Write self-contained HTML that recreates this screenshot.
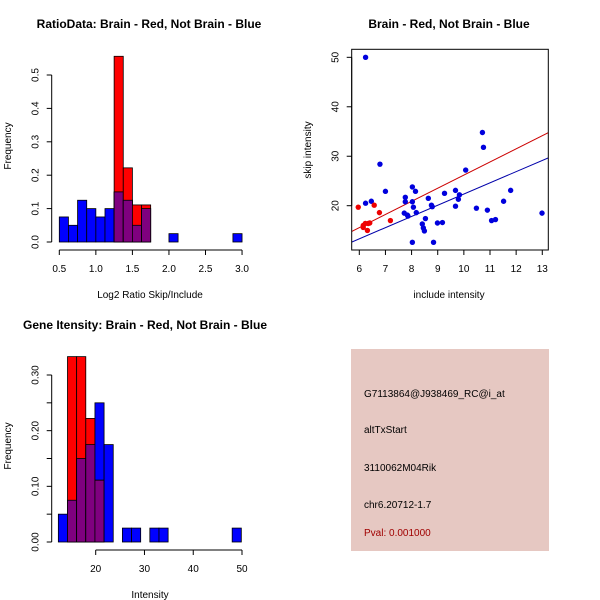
<!DOCTYPE html>
<html><head><meta charset="utf-8"><style>
body{margin:0;background:#fff}
svg{display:block;font-family:"Liberation Sans",Arial,sans-serif}
</style></head><body>
<svg id="s" width="600" height="600" viewBox="0 0 600 600">
<rect width="600" height="600" fill="#fff"/>
<text x="149" y="28" text-anchor="middle" font-size="12" font-weight="bold">RatioData: Brain - Red, Not Brain - Blue</text>
<text x="449" y="28" text-anchor="middle" font-size="12" font-weight="bold">Brain - Red, Not Brain - Blue</text>
<text x="145" y="329" text-anchor="middle" font-size="12" font-weight="bold">Gene Itensity: Brain - Red, Not Brain - Blue</text>
<text x="150" y="298" text-anchor="middle" font-size="10">Log2 Ratio Skip/Include</text>
<text transform="translate(11,146) rotate(-90)" text-anchor="middle" font-size="10">Frequency</text>
<text x="449" y="298" text-anchor="middle" font-size="10">include intensity</text>
<text transform="translate(311,150) rotate(-90)" text-anchor="middle" font-size="10">skip intensity</text>
<text x="150" y="598" text-anchor="middle" font-size="10">Intensity</text>
<text transform="translate(11,446) rotate(-90)" text-anchor="middle" font-size="10">Frequency</text>
<g>
<rect x="351" y="349" width="198" height="202" fill="#E6C8C2"/>
<text x="364" y="397" font-size="10">G7113864@J938469_RC@i_at</text>
<text x="364" y="433" font-size="10">altTxStart</text>
<text x="364" y="471" font-size="10">3110062M04Rik</text>
<text x="364" y="508" font-size="10">chr6.20712-1.7</text>
<text x="364" y="536" font-size="10" fill="#a00000">Pval: 0.001000</text>
</g>
<g id="g1"></g><g id="g2"></g><g id="g3"></g>
</svg>
<script>
// Panel 1 data
const ratioBinStart = 0.5, ratioBinWidth = 0.125;
const ratioBlue = [0.075,0.05,0.125,0.1,0.075,0.1,0.15,0.125,0.05,0.1,0,0,0.025,0,0,0,0,0,0,0.025];
const ratioRed  = [0,0,0,0,0,0,0.556,0.222,0.111,0.111,0,0,0,0,0,0,0,0,0,0];
const ratioXTicks = [0.5,1.0,1.5,2.0,2.5,3.0];
const ratioYTicks = [0.0,0.1,0.2,0.3,0.4,0.5];
// Panel 2 data
const blueX = [6.24,6.24,6.46,6.79,7.0,7.76,7.76,7.72,7.84,7.86,8.03,8.15,8.07,8.18,8.03,8.03,8.41,8.45,8.49,8.53,8.64,8.76,8.79,8.84,8.99,9.18,9.26,9.68,9.68,9.79,9.83,10.07,10.48,10.71,10.75,10.90,11.06,11.21,11.52,11.79,12.99];
const blueY = [50,20.5,20.9,28.4,22.9,21.7,20.8,18.5,18.1,17.9,23.8,22.9,19.7,18.6,20.8,12.6,16.3,15.5,14.9,17.4,21.5,20.1,19.8,12.6,16.5,16.6,22.5,23.1,19.9,21.3,22.2,27.2,19.5,34.8,31.8,19.1,17.0,17.2,20.9,23.1,18.5];
const redX = [5.96,6.15,6.15,6.23,6.34,6.4,6.31,6.57,6.77,7.19];
const redY = [19.7,16.0,15.6,16.4,16.4,16.5,15.0,20.1,18.6,17.0];
const redFit = [-0.37, 2.656];
const blueFit = [-0.28, 2.264];
const scatXTicks = [6,7,8,9,10,11,12,13];
const scatYTicks = [20,30,40,50];
// Panel 3 data
const intBinStart = 12.34, intBinWidth = 1.876;
const intBlue = [0.05,0.075,0.15,0.175,0.25,0.175,0,0.025,0.025,0,0.025,0.025,0,0,0,0,0,0,0,0.025];
const intRed  = [0,0.333,0.333,0.222,0.111,0,0,0,0,0,0,0,0,0,0,0,0,0,0,0];
const intXTicks = [20,30,40,50];
const intYTicks = [0,0.05,0.10,0.15,0.20,0.25,0.30];
const intYLabels = ["0.00","","0.10","","0.20","","0.30"];

const NS="http://www.w3.org/2000/svg";
function mk(p,tag,attrs){const e=document.createElementNS(NS,tag);for(const k in attrs)e.setAttribute(k,attrs[k]);p.appendChild(e);return e;}

function hist(g,start,w,blue,red,sx,sy,pfx){
  for(let i=0;i<blue.length;i++){
    const x0=sx(start+i*w),x1=sx(start+(i+1)*w);
    const b=blue[i],r=red[i],m=Math.min(b,r);
    if(b>0){const e=mk(g,'rect',{x:x0,y:sy(b),width:x1-x0,height:sy(0)-sy(b),fill:'#0000ff',stroke:'#000','stroke-width':0.8});
      
      }
    if(r>0){const e=mk(g,'rect',{x:x0,y:sy(r),width:x1-x0,height:sy(0)-sy(r),fill:'#ff0000',stroke:'#000','stroke-width':0.8});
      
      }
    if(m>0){const e=mk(g,'rect',{x:x0,y:sy(m),width:x1-x0,height:sy(0)-sy(m),fill:'#7f007f',stroke:'#000','stroke-width':0.8});
      
      }
  }
}
function xAxis(g,ticks,labels,sx,y,pfx){
  mk(g,'line',{x1:sx(ticks[0]),x2:sx(ticks[ticks.length-1]),y1:y,y2:y,stroke:'#000'});
  ticks.forEach((t,i)=>{mk(g,'line',{x1:sx(t),x2:sx(t),y1:y,y2:y+5,stroke:'#000'});
    const e=mk(g,'text',{x:sx(t),y:y+22,'text-anchor':'middle','font-size':10});e.textContent=labels[i];
    
    });
}
function yAxis(g,ticks,labels,sy,x,pfx){
  mk(g,'line',{x1:x,x2:x,y1:sy(ticks[0]),y2:sy(ticks[ticks.length-1]),stroke:'#000'});
  ticks.forEach((t,i)=>{mk(g,'line',{x1:x,x2:x-5,y1:sy(t),y2:sy(t),stroke:'#000'});
    if(labels[i]==='')return;
    const e=mk(g,'text',{transform:`translate(${x-13},${sy(t)}) rotate(-90)`,'text-anchor':'middle','font-size':10});e.textContent=labels[i];
    
    });
}
// Panel 1
{const g=document.getElementById('g1');
 
 
 const sx=v=>59.3+(v-0.5)*73.1, sy=v=>242-v*334;
 hist(g,ratioBinStart,ratioBinWidth,ratioBlue,ratioRed,sx,sy,'ratio');
 xAxis(g,ratioXTicks,ratioXTicks.map(v=>v.toFixed(1)),sx,250,'ratio');
 yAxis(g,ratioYTicks,ratioYTicks.map(v=>v.toFixed(1)),sy,51.7,'ratio');}
// Panel 2
{const g=document.getElementById('g2');
 
 
 const sx=v=>359.3+(v-6)*26.14, sy=v=>205.7-(v-20)*4.946;
 const cp=mk(g,'clipPath',{id:'cp'});mk(cp,'rect',{x:351.7,y:49.3,width:196.6,height:200.7});
 const lg=mk(g,'g',{'clip-path':'url(#cp)'});
 [[redFit,'#cc0000','red-fit-line'],[blueFit,'#0000aa','blue-fit-line']].forEach(([f,c,n])=>{
   const e=mk(lg,'line',{x1:sx(5),y1:sy(f[0]+f[1]*5),x2:sx(14),y2:sy(f[0]+f[1]*14),stroke:c,'stroke-width':1});
   
   });
 blueX.forEach((x,i)=>{const e=mk(g,'circle',{cx:sx(x),cy:sy(blueY[i]),r:2.7,fill:'#0000dd'});
   
   });
 redX.forEach((x,i)=>{const e=mk(g,'circle',{cx:sx(x),cy:sy(redY[i]),r:2.7,fill:'#ee0000'});
   
   });
 mk(g,'rect',{x:351.7,y:49.3,width:196.6,height:200.7,fill:'none',stroke:'#000'});
 xAxis(g,scatXTicks,scatXTicks.map(String),sx,250,'scatter');
 yAxis(g,scatYTicks,scatYTicks.map(String),sy,351.7,'scatter');}
// Panel 3
{const g=document.getElementById('g3');
 
 
 const sx=v=>95.7+(v-20)*4.877, sy=v=>542-v*556.7;
 hist(g,intBinStart,intBinWidth,intBlue,intRed,sx,sy,'intensity');
 xAxis(g,intXTicks,intXTicks.map(String),sx,550,'intensity');
 yAxis(g,intYTicks,intYLabels,sy,51.7,'intensity');}
</script>
</body></html>
